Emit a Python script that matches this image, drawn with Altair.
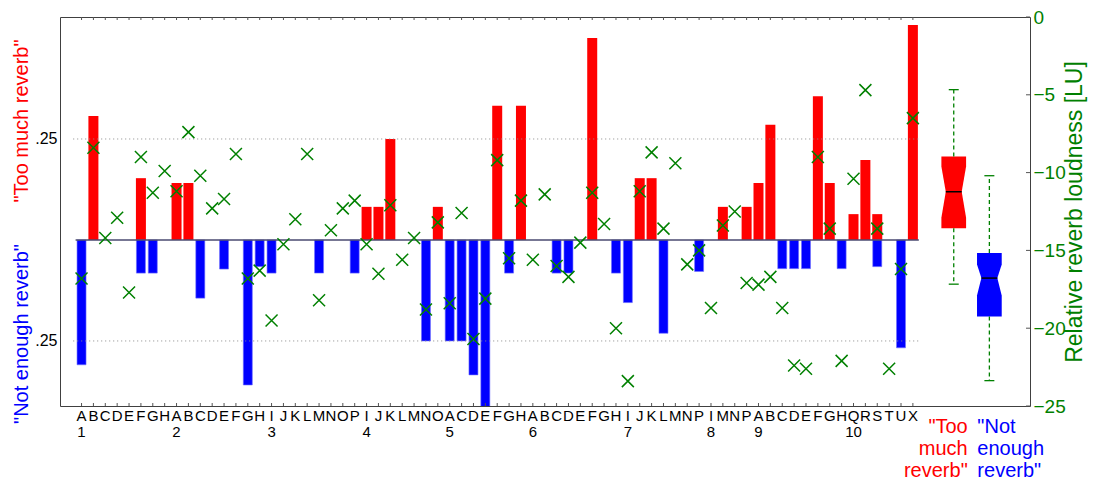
import altair as alt
import pandas as pd

# ---------------- data ----------------
group_numbers = ["1", "2", "3", "4", "5", "6", "7", "8", "9", "10"]
group_letters = ["ABCDEFGH", "ABCDEFGH", "IJKLMNOP", "IJKLMNO", "ACDEFGH",
                 "ABCDEFGH", "IJKLMNP", "IMNP", "ABCDEFGH", "QRSTUX"]

# share of "too much reverb" answers (positive, red bars)
too_much = [0, 0.307, 0, 0, 0, 0.153, 0, 0, 0.141, 0.141,
            0, 0, 0, 0, 0, 0, 0, 0, 0, 0,
            0, 0, 0, 0, 0.082, 0.082, 0.25, 0, 0, 0,
            0.082, 0, 0, 0, 0, 0.332, 0, 0.332, 0, 0,
            0, 0, 0, 0.50, 0, 0, 0, 0.153, 0.153, 0,
            0, 0, 0, 0, 0.082, 0, 0.082, 0.141, 0.285, 0,
            0, 0, 0.356, 0.141, 0, 0.064, 0.198, 0.064, 0, 0,
            0.532]

# share of "not enough reverb" answers (negative, blue bars)
not_enough = [-0.309, 0, 0, 0, 0, -0.082, -0.082, 0, 0, 0,
              -0.144, 0, -0.072, 0, -0.359, -0.066, -0.082, 0, 0, 0,
              -0.082, 0, 0, -0.082, 0, 0, 0, 0, 0, -0.25,
              0, -0.25, -0.25, -0.334, -0.43, 0, -0.082, 0, 0, 0,
              -0.082, -0.082, 0, 0, 0, -0.082, -0.155, 0, 0, -0.231,
              0, 0, -0.078, 0, 0, 0, 0, 0, 0, -0.071,
              -0.071, -0.071, 0, 0, -0.071, 0, 0, -0.066, 0, -0.267,
              0]

# relative reverb loudness [LU] (green crosses)
loudness = [-16.8, -8.4, -14.2, -12.9, -17.7, -9.0, -11.3, -9.9, -11.2, -7.4,
            -10.2, -12.3, -11.7, -8.8, -16.8, -16.3, -19.5, -14.6, -13.0, -8.8,
            -18.2, -13.7, -12.3, -11.8, -14.6, -16.5, -12.1, -15.6, -14.2, -18.8,
            -13.2, -18.4, -12.6, -20.7, -18.1, -9.2, -15.5, -11.8, -15.6, -11.4,
            -16.0, -16.7, -14.5, -11.3, -13.3, -20.0, -23.4, -11.2, -8.7, -13.6,
            -9.4, -15.9, -15.0, -18.7, -13.4, -12.5, -17.1, -17.2, -16.7, -18.7,
            -22.4, -22.6, -9.0, -13.6, -22.1, -10.4, -4.7, -13.6, -22.6, -16.2,
            -6.5]

# notched box plots
box_labels = ['"Too\nmuch\nreverb"', '"Not\nenough\nreverb"']
box_colors = ["#ff0000", "#0000ff"]
box_whisk_lo = [-17.17, -23.37]
box_q1 = [-13.57, -19.25]
box_notch_lo = [-12.9, -17.9]
box_median = [-11.23, -16.78]
box_notch_hi = [-9.6, -15.9]
box_q3 = [-8.96, -15.17]
box_whisk_hi = [-4.67, -10.2]

lu_ticks = [0, -5, -10, -15, -20, -25]
share_ticks = [-0.25, 0.25]

# ---------------- layout constants ----------------
W, H = 970, 389
X_DOM = [-0.392, 80.44]
BOX_X = [74.44, 77.44]
BOX_HALF, NOTCH_HALF, CAP_HALF = 1.04, 0.67, 0.42
FONT = "Liberation Sans"
GREEN = "#008000"

letters, numbers = [], []
for g, s in zip(group_numbers, group_letters):
    for j, ch in enumerate(s):
        letters.append(ch)
        numbers.append(g if j == 0 else "")
n = len(letters)
pos = list(range(1, n + 1))

df = pd.DataFrame({"pos": pos, "letter": letters, "num": numbers,
                   "too": too_much, "neg": not_enough, "lu": loudness})

xs = alt.Scale(domain=X_DOM, nice=False, zero=False)
yl = alt.Scale(domain=[-0.411, 0.552], nice=False, zero=False)
yr = alt.Scale(domain=[-25, 0], nice=False, zero=False)


def X(f):
    return alt.X(f, type="quantitative", scale=xs, axis=None)


def YL(f):
    return alt.Y(f, type="quantitative", scale=yl, axis=None)


def YR(f):
    return alt.Y(f, type="quantitative", scale=yr, axis=None)


# ---------------- answer shares (left scale) ----------------
left_axis = alt.Axis(orient="left", values=share_ticks, labelExpr="'.25'", title=None,
                     grid=False, ticks=False, domain=False, labelFontSize=16,
                     labelColor="black", labelPadding=3, labelFont=FONT)

red_bars = alt.Chart(df[df["too"] > 0]).mark_bar(color="#ff0000", width=10, clip=True).encode(
    x=X("pos"), y=alt.Y("too:Q", scale=yl, axis=left_axis), y2=alt.datum(0))
blue_bars = alt.Chart(df[df["neg"] < 0]).mark_bar(color="#0000ff", width=9, clip=True,
                                                  stroke="#7070ff", strokeWidth=0.6).encode(
    x=X("pos"), y=YL("neg"), y2=alt.datum(0))

line_df = pd.DataFrame({"x0": [0.5], "x1": [n + 0.5], "z": [0.0]})
zero_line = alt.Chart(line_df).mark_rule(color="#4a4a70", strokeWidth=1.5).encode(
    x=X("x0"), x2="x1", y=YL("z"))

grid_df = pd.DataFrame({"v": share_ticks, "x0": [0.3, 0.3], "x1": [n + 0.5, n + 0.5]})
grid = alt.Chart(grid_df).mark_rule(color="#8a8a8a", strokeDash=[1, 3], strokeWidth=1).encode(
    x=X("x0"), x2="x1", y=YL("v"))

ticks_top = alt.Chart(df).mark_rule(color="#555555").encode(
    x=X("pos"), y=alt.value(0), y2=alt.value(3))
ticks_bot = alt.Chart(df).mark_rule(color="#555555").encode(
    x=X("pos"), y=alt.value(H - 3), y2=alt.value(H))

letter_txt = alt.Chart(df).mark_text(fontSize=15, font=FONT, baseline="alphabetic",
                                     align="center", color="black").encode(
    x=X("pos"), y=alt.value(404), text="letter:N")
num_txt = alt.Chart(df[df["num"] != ""]).mark_text(fontSize=15, font=FONT, baseline="alphabetic",
                                                   align="center", color="black").encode(
    x=X("pos"), y=alt.value(420), text="num:N")

side_df = pd.DataFrame({"t": ['"Too much reverb"', '"Not enough reverb"']})
side_red = alt.Chart(side_df.iloc[[0]]).mark_text(angle=270, fontSize=20, font=FONT,
                                                  color="#ff0000", align="center", baseline="middle").encode(
    x=alt.value(-38), y=alt.value(104), text="t:N")
side_blue = alt.Chart(side_df.iloc[[1]]).mark_text(angle=270, fontSize=20, font=FONT,
                                                   color="#0000ff", align="center", baseline="middle").encode(
    x=alt.value(-38), y=alt.value(317), text="t:N")

# ---------------- loudness (right scale) ----------------
right_axis = alt.Axis(orient="right", values=lu_ticks, title="Relative reverb loudness [LU]",
                      grid=False, ticks=False, domain=False, labelFontSize=19, labelFont=FONT,
                      labelColor=GREEN, labelPadding=3, titleColor=GREEN, titleFontSize=23,
                      titleFont=FONT, titleFontWeight="normal", titleAngle=270,
                      titleX=33, titleY=H / 2, titleBaseline="top", titleAlign="center")

crosses = alt.Chart(df).mark_point(shape="M-1,-1L1,1M-1,1L1,-1", filled=False, stroke=GREEN,
                                   strokeWidth=1.5, size=144, opacity=1).encode(
    x=X("pos"), y=alt.Y("lu:Q", scale=yr, axis=right_axis))

# notched box bodies: an upper and a lower area per box
poly_rows = []
for k in range(2):
    c = BOX_X[k]
    for part, edge, notch in (("up", box_q3[k], box_notch_hi[k]), ("lo", box_q1[k], box_notch_lo[k])):
        for xx, inner in ((c - BOX_HALF, notch), (c - NOTCH_HALF, box_median[k]),
                          (c + NOTCH_HALF, box_median[k]), (c + BOX_HALF, notch)):
            poly_rows.append({"part": f"{k}{part}", "x": xx, "ya": edge, "yb": inner,
                              "col": box_colors[k]})
poly_df = pd.DataFrame(poly_rows)
boxes = alt.Chart(poly_df).mark_area(opacity=1, interpolate="linear").encode(
    x=X("x"), y=YR("ya"), y2="yb",
    color=alt.Color("col:N", scale=None), detail="part:N")

bx = pd.DataFrame({"c": BOX_X, "wl": box_whisk_lo, "q1": box_q1, "med": box_median,
                   "q3": box_q3, "wh": box_whisk_hi, "lab": box_labels, "col": box_colors})
bx["ml"] = bx["c"] - NOTCH_HALF
bx["mr"] = bx["c"] + NOTCH_HALF
bx["cl"] = bx["c"] - CAP_HALF
bx["cr"] = bx["c"] + CAP_HALF

whisk_hi = alt.Chart(bx).mark_rule(color=GREEN, strokeDash=[4, 3], strokeWidth=1.3).encode(
    x=X("c"), y=YR("q3"), y2="wh")
whisk_lo = alt.Chart(bx).mark_rule(color=GREEN, strokeDash=[4, 3], strokeWidth=1.3).encode(
    x=X("c"), y=YR("q1"), y2="wl")
cap_hi = alt.Chart(bx).mark_rule(color=GREEN, strokeWidth=1.3).encode(
    x=X("cl"), x2="cr", y=YR("wh"))
cap_lo = alt.Chart(bx).mark_rule(color=GREEN, strokeWidth=1.3).encode(
    x=X("cl"), x2="cr", y=YR("wl"))
med = alt.Chart(bx).mark_rule(color="black", strokeWidth=1.5).encode(
    x=X("ml"), x2="mr", y=YR("med"))

lab_red = alt.Chart(bx.iloc[[0]]).mark_text(fontSize=20, font=FONT, color="#ff0000", align="right",
                                            baseline="alphabetic", lineBreak="\n", lineHeight=22,
                                            dx=14).encode(
    x=X("c"), y=alt.value(416), text="lab:N")
lab_blue = alt.Chart(bx.iloc[[1]]).mark_text(fontSize=20, font=FONT, color="#0000ff", align="left",
                                             baseline="alphabetic", lineBreak="\n", lineHeight=22,
                                             dx=-12).encode(
    x=X("c"), y=alt.value(416), text="lab:N")

tick_df = pd.DataFrame({"v": lu_ticks})
rticks = alt.Chart(tick_df).mark_rule(color="#555555").encode(
    x=alt.value(W - 4), x2=alt.value(W), y=YR("v"))

chart = alt.layer(
    red_bars, blue_bars, grid, zero_line, ticks_top, ticks_bot,
    letter_txt, num_txt, side_red, side_blue,
    boxes, whisk_hi, whisk_lo, cap_hi, cap_lo, med, lab_red, lab_blue, rticks,
    crosses,
).resolve_scale(y="independent").properties(
    width=W, height=H,
    autosize=alt.AutoSizeParams(type="none"),
    padding={"left": 52, "top": 9, "right": 58, "bottom": 78},
    background="white",
).configure_view(stroke="#404040", strokeWidth=1)

chart.save("out.html", embed_options={"renderer": "svg", "actions": False})
